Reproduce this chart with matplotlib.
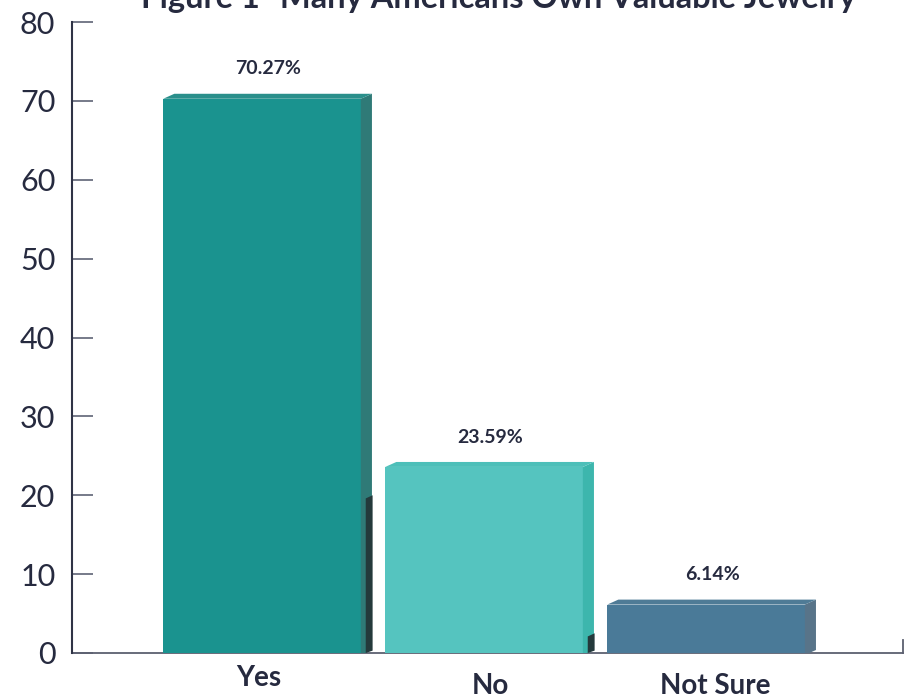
import matplotlib
matplotlib.use("Agg")
import matplotlib.pyplot as plt
from matplotlib.patches import Polygon, Rectangle
from matplotlib import transforms

plt.rcParams['font.family'] = ['Lato', 'DejaVu Sans']

# Survey responses
categories = ["Yes", "No", "Not Sure"]
values = [70.27, 23.59, 6.14]
value_labels = ["70.27%", "23.59%", "6.14%"]
yticks = [0, 10, 20, 30, 40, 50, 60, 70, 80]
title = "Figure 1- Many Americans Own Valuable Jewelry"

# Face colours: front, side, top
front_colors = ["#1a938f", "#55c4bf", "#4a7a98"]
side_colors = ["#2f7a77", "#3db6ad", "#587489"]
top_colors = ["#2a8f8b", "#4dbfb9", "#4f7b96"]
# Cast shadows on the right side of the bars
shadow_heights = [20.0, 2.5, 0.0]

TEXT = "#262a3f"
W, H = 909, 698
fig = plt.figure(figsize=(W / 100, H / 100), dpi=100)
ax = fig.add_axes([72 / W, 45 / H, 831 / W, 631 / H])

x = list(range(len(categories)))
width = 0.89
dx, dy = 0.05, 0.63  # depth of the 3D extrusion (x in data units, y in value units)

for i, (xi, v) in enumerate(zip(x, values)):
    x0, x1 = xi - width / 2, xi + width / 2
    # front face
    ax.add_patch(Rectangle((x0, -0.25), width, v + 0.25, facecolor=front_colors[i],
                           edgecolor="none", zorder=3))
    # side face
    ax.add_patch(Polygon([(x1, -0.25), (x1 + dx, dy * 0.6), (x1 + dx, v + dy), (x1, v)],
                         closed=True, facecolor=side_colors[i], edgecolor="none", zorder=3))
    # top face
    ax.add_patch(Polygon([(x0, v), (x0 + dx, v + dy), (x1 + dx, v + dy), (x1, v)],
                         closed=True, facecolor=top_colors[i], edgecolor="none", zorder=3))
    # shadow
    if shadow_heights[i] > 0:
        sh = shadow_heights[i]
        ax.add_patch(Polygon([(x1 + 0.022, 0.0), (x1 + dx + 0.003, 0.3),
                              (x1 + dx + 0.003, sh), (x1 + 0.022, sh - 0.4)],
                             closed=True, facecolor="#24393b", edgecolor="none", zorder=4))
    # value label
    ax.annotate(value_labels[i], (xi + 0.027, v), xytext=(0, 21.5), textcoords="offset points",
                ha="center", va="center", fontsize=14, fontweight="bold", color=TEXT)

ax.set_xlim(-0.856, 2.887)
ax.set_ylim(0, 80)

for s in ["top", "right"]:
    ax.spines[s].set_visible(False)
ax.spines["left"].set_color("#2f3346")
ax.spines["left"].set_linewidth(1.5)
ax.spines["bottom"].set_color("#5c6070")
ax.spines["bottom"].set_linewidth(1.3)
ax.spines["bottom"].set_zorder(2)

# closing tick on the right end of the baseline
ax.plot([1, 1], [0, 1.6], transform=transforms.blended_transform_factory(ax.transAxes, ax.transData),
        color="#5c6070", lw=1.3, clip_on=False)

ax.set_yticks(yticks)
ax.set_yticklabels([str(t) for t in yticks], fontsize=22, color=TEXT, fontweight="normal")
ax.tick_params(axis="y", direction="in", length=15, width=1.3, color="#6b7080", pad=12)
ax.set_xticks([])

# category labels
label_dx = [-0.015, 0.03, 0.04]
label_y = [-3.2, -4.2, -4.2]
for xi, c, ddx, ly in zip(x, categories, label_dx, label_y):
    ax.text(xi + ddx, ly, c, ha="center", va="center", fontsize=20, fontweight="bold",
            color=TEXT, clip_on=False)

fig.text(499 / W, 1 - 8 / H, title, ha="center", va="baseline", fontsize=23.5,
         fontweight="bold", color=TEXT)

fig.savefig("out.png", dpi=100)
